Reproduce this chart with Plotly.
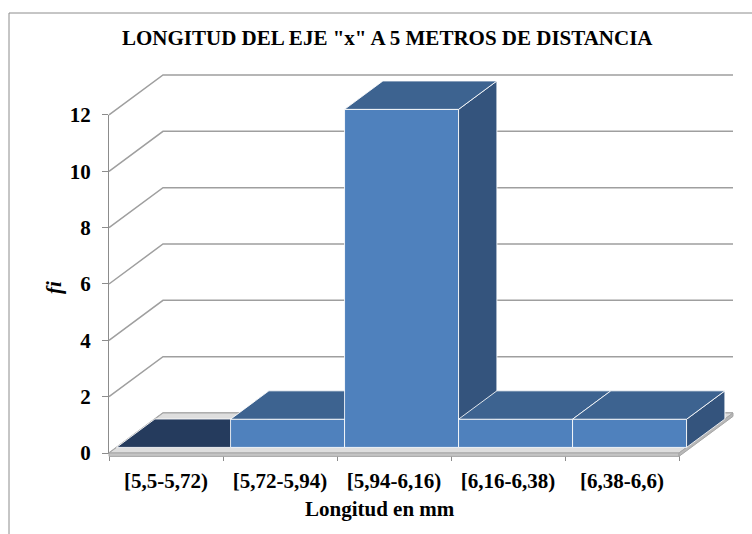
import plotly.graph_objects as go

# Frequency table: length classes (mm) and absolute frequency fi
categories = ["[5,5-5,72)", "[5,72-5,94)", "[5,94-6,16)", "[6,16-6,38)", "[6,38-6,6)"]
fi = [0, 1, 12, 1, 1]
y_ticks = [0, 2, 4, 6, 8, 10, 12]

title_text = 'LONGITUD DEL EJE "x" A 5 METROS DE DISTANCIA'
x_title = "Longitud en mm"
y_title = "fi"

# ---- page geometry (pixels) ----
W, H = 752, 534
X0_PX, CAT_PX = 109, 114      # left edge of first class, width of one class on the front plane
Y0_PX, UNIT_PX = 453, 28.17   # baseline on the front plane, pixels per frequency unit
DEPTH_DX, DEPTH_DY = 54, 40   # oblique shift of the back plane (right and up)
D_FRONT, D_BACK = 0.14, 0.85  # depth span of the columns (0 = front, 1 = back wall)
FLOOR_T = 0.12                # floor slab thickness in frequency units

FONT = "Liberation Serif, Times New Roman, serif"
FRONT_C, TOP_C, SIDE_C, ZERO_C = "#4f81bd", "#3d6390", "#34547d", "#253b5d"
EDGE_C = "rgba(255,255,255,0.85)"
GRID_C = "#9f9f9f"

n = len(categories)
y_max = max(y_ticks)
dx_u = DEPTH_DX / CAT_PX
dy_u = DEPTH_DY / UNIT_PX


def proj(c, v, d):
    """Oblique projection of (class position, value, depth) onto the 2-D scale."""
    return c + d * dx_u, v + d * dy_u


def face(points, fill, line=EDGE_C, width=1):
    pts = [proj(*p) for p in points]
    pts.append(pts[0])
    return go.Scatter(
        x=[p[0] for p in pts], y=[p[1] for p in pts],
        xaxis="x2", yaxis="y2", mode="lines", fill="toself",
        fillcolor=fill, line=dict(color=line, width=width),
        hoverinfo="skip", showlegend=False,
    )


fig = go.Figure()

# Category/value axes of the front plane (carry the tick marks and labels)
fig.add_trace(go.Scatter(x=categories, y=fi, mode="none", hoverinfo="skip",
                         showlegend=False, xaxis="x", yaxis="y"))

# Back wall + left wall gridlines
gx, gy = [], []
for v in y_ticks:
    for p in [(0, v, 0), (0, v, 1), (n, v, 1)]:
        px, py = proj(*p)
        gx.append(px)
        gy.append(py)
    gx.append(None)
    gy.append(None)
fig.add_trace(go.Scatter(x=gx, y=gy, xaxis="x2", yaxis="y2", mode="lines",
                         line=dict(color=GRID_C, width=1.5),
                         hoverinfo="skip", showlegend=False))

# Floor slab
fig.add_trace(face([(0, 0, 0), (n, 0, 0), (n, 0, 1), (0, 0, 1)], "#dedede", "#a6a6a6"))
fig.add_trace(face([(0, 0, 0), (n, 0, 0), (n, -FLOOR_T, 0), (0, -FLOOR_T, 0)], "#c4c4c4", "#a6a6a6"))
fig.add_trace(face([(n, 0, 0), (n, 0, 1), (n, -FLOOR_T, 1), (n, -FLOOR_T, 0)], "#b8b8b8", "#a6a6a6"))

# Columns, painted left to right so each one hides the side of the previous one
for i, v in enumerate(fi):
    a, b = i, i + 1
    top = [(a, v, D_FRONT), (b, v, D_FRONT), (b, v, D_BACK), (a, v, D_BACK)]
    if v > 0:
        fig.add_trace(face([(a, 0, D_FRONT), (b, 0, D_FRONT), (b, v, D_FRONT), (a, v, D_FRONT)], FRONT_C))
        fig.add_trace(face([(b, 0, D_FRONT), (b, 0, D_BACK), (b, v, D_BACK), (b, v, D_FRONT)], SIDE_C))
        fig.add_trace(face(top, TOP_C))
    else:
        fig.add_trace(face(top, ZERO_C))

tick_font = dict(family=FONT, size=21, color="black", weight="bold")

fig.update_layout(
    width=W, height=H,
    margin=dict(l=0, r=0, t=0, b=0, pad=0, autoexpand=False),
    paper_bgcolor="white", plot_bgcolor="rgba(0,0,0,0)",
    showlegend=False,
    xaxis=dict(
        domain=[X0_PX / W, (X0_PX + n * CAT_PX) / W],
        type="category", categoryorder="array", categoryarray=categories,
        range=[-0.5, n - 0.5], tickson="boundaries",
        ticks="outside", ticklen=7, tickcolor="#8c8c8c", tickwidth=1,
        showline=True, linecolor="#8c8c8c", linewidth=1,
        showgrid=False, zeroline=False, tickfont=tick_font,
        ticklabelstandoff=9, fixedrange=True, anchor="y", automargin=False,
    ),
    yaxis=dict(
        domain=[(H - Y0_PX) / H, (H - (Y0_PX - y_max * UNIT_PX)) / H],
        range=[0, y_max], tickmode="array", tickvals=y_ticks,
        ticks="outside", ticklen=6, tickcolor="#8c8c8c", tickwidth=1,
        showline=True, linecolor="#8c8c8c", linewidth=1,
        showgrid=False, zeroline=False, tickfont=tick_font,
        ticklabelstandoff=7, fixedrange=True, anchor="x", automargin=False,
    ),
    xaxis2=dict(domain=[0, 1], range=[-X0_PX / CAT_PX, (W - X0_PX) / CAT_PX],
                visible=False, fixedrange=True, anchor="y2", automargin=False),
    yaxis2=dict(domain=[0, 1], range=[-(H - Y0_PX) / UNIT_PX, Y0_PX / UNIT_PX],
                visible=False, fixedrange=True, anchor="x2", automargin=False),
    shapes=[dict(type="rect", xref="paper", yref="paper",
                 x0=9 / W, x1=1.05, y0=-0.05, y1=1 - 13 / H,
                 line=dict(color="#8c8c8c", width=1), fillcolor="rgba(0,0,0,0)",
                 layer="below")],
    annotations=[
        dict(text=title_text, x=387 / W, y=1 - 38 / H, xref="paper", yref="paper",
             showarrow=False, xanchor="center", yanchor="middle",
             font=dict(family=FONT, size=21, color="black", weight="bold")),
        dict(text=x_title, x=380 / W, y=1 - 509 / H, xref="paper", yref="paper",
             showarrow=False, xanchor="center", yanchor="middle",
             font=dict(family=FONT, size=21, color="black", weight="bold")),
        dict(text=y_title, x=54 / W, y=1 - 288 / H, xref="paper", yref="paper",
             showarrow=False, xanchor="center", yanchor="middle", textangle=-90,
             font=dict(family=FONT, size=21, color="black", weight="bold", style="italic")),
    ],
)

fig.write_html("out.html")
